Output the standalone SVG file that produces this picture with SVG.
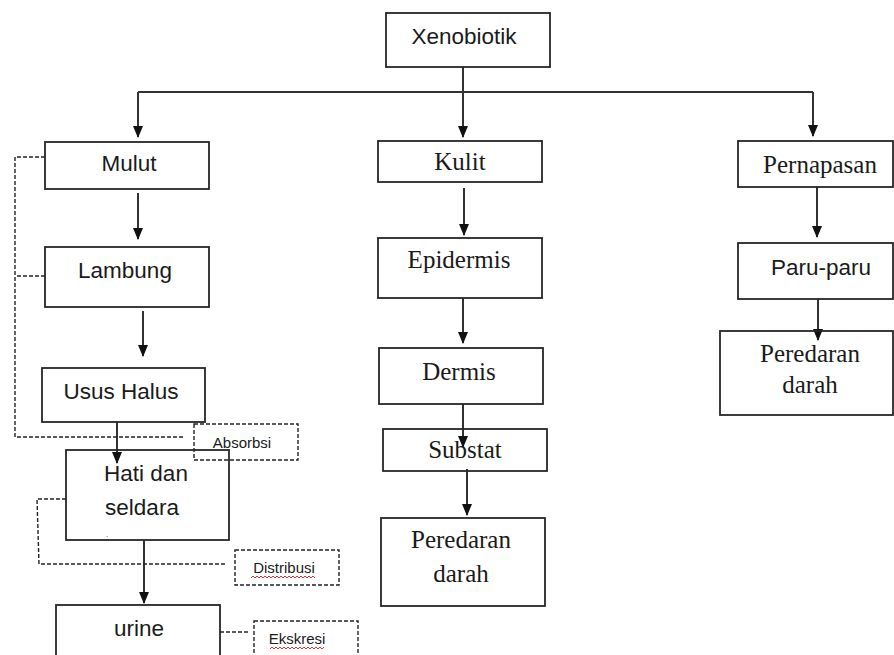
<svg xmlns="http://www.w3.org/2000/svg" width="894" height="655" viewBox="0 0 894 655">
<style>
.box{fill:none;stroke:#262626;stroke-width:1.8}
.dbox{fill:none;stroke:#222;stroke-width:1.4;stroke-dasharray:4 2}
.dl{fill:none;stroke:#222;stroke-width:1.4;stroke-dasharray:4 2}
.ln{fill:none;stroke:#333;stroke-width:2}
.ar{fill:none;stroke:#333;stroke-width:2;marker-end:url(#ah)}
.sans{font-family:"Liberation Sans",Arial,sans-serif;font-size:22.5px;fill:#1a1a1a;text-anchor:middle}
.serif{font-family:"Liberation Serif","Times New Roman",serif;font-size:25px;fill:#1a1a1a;text-anchor:middle}
.small{font-family:"Liberation Sans",Arial,sans-serif;font-size:15px;fill:#1a1a1a;text-anchor:middle}
.wave{fill:none;stroke:#e03030;stroke-width:1}
</style>
<defs>
<marker id="ah" viewBox="0 0 12 10" refX="11" refY="5" markerWidth="12" markerHeight="11" markerUnits="userSpaceOnUse" orient="auto">
<path d="M0,0 L12,5 L0,10 z" fill="#111"/>
</marker>
</defs>
<rect width="894" height="655" fill="#fff"/>

<g id="connectors">
<path class="ln" d="M138,92 H813"/>
<path class="ar" d="M463,67 V137"/>
<path class="ar" d="M138,92 V137"/>
<path class="ar" d="M813,92 V136"/>
<path class="ar" d="M138,193 V239"/>
<path class="ar" d="M143,311 V356"/>
<path class="ar" d="M117,422 V463"/>
<path class="ar" d="M144,540 V603"/>
<path class="ar" d="M464,188 V235"/>
<path class="ar" d="M463,298 V343"/>
<path class="ar" d="M463,404 V447"/>
<path class="ar" d="M467,469 V515"/>
<path class="ar" d="M817,187 V237"/>
<path class="ar" d="M818,299 V340"/>
<path class="dl" d="M45,157 H15 V437 H185"/>
<path class="dl" d="M45,276 H15"/>
<path class="dl" d="M66,499 H37 L39,564 H227"/>
<path class="dl" d="M220,632 H250"/>
</g>

<g id="xenobiotik"><rect class="box" x="386" y="13" width="164" height="54"/><text class="sans" x="464" y="44">Xenobiotik</text></g>
<g id="mulut"><rect class="box" x="45" y="142" width="164" height="47"/><text class="sans" x="129" y="171">Mulut</text></g>
<g id="lambung"><rect class="box" x="45" y="247" width="164" height="60"/><text class="sans" x="125" y="278">Lambung</text></g>
<g id="usus-halus"><rect class="box" x="42" y="368" width="163" height="54"/><text class="sans" x="121" y="399">Usus Halus</text></g>
<g id="hati"><rect class="box" x="66" y="450" width="163" height="90"/><text class="sans" x="146" y="481">Hati dan</text><text class="sans" x="142" y="515">seldara</text><text class="small" x="107" y="537" style="font-size:8px">.</text></g>
<g id="urine"><rect class="box" x="56" y="605" width="164" height="60"/><text class="sans" x="139" y="636">urine</text></g>
<g id="absorbsi"><rect class="dbox" x="194" y="424" width="104" height="36"/><text class="small" x="242" y="448">Absorbsi</text></g>
<g id="distribusi"><rect class="dbox" x="235" y="550" width="104" height="35"/><text class="small" x="284" y="573">Distribusi</text>
<path class="wave" d="M251,578 l2,-2 l2,2 l2,-2 l2,2 l2,-2 l2,2 l2,-2 l2,2 l2,-2 l2,2 l2,-2 l2,2 l2,-2 l2,2 l2,-2 l2,2 l2,-2 l2,2 l2,-2 l2,2 l2,-2 l2,2 l2,-2 l2,2 l2,-2 l2,2 l2,-2 l2,2 l2,-2 l2,2 l2,-2 l2,2"/></g>
<g id="ekskresi"><rect class="dbox" x="254" y="621" width="104" height="44"/><text class="small" x="297" y="644">Ekskresi</text>
<path class="wave" d="M270,649 l2,-2 l2,2 l2,-2 l2,2 l2,-2 l2,2 l2,-2 l2,2 l2,-2 l2,2 l2,-2 l2,2 l2,-2 l2,2 l2,-2 l2,2 l2,-2 l2,2 l2,-2 l2,2 l2,-2 l2,2 l2,-2 l2,2 l2,-2 l2,2 l2,-2"/></g>

<g id="kulit"><rect class="box" x="378" y="141" width="164" height="41"/><text class="serif" x="460" y="170">Kulit</text></g>
<g id="epidermis"><rect class="box" x="378" y="238" width="164" height="60"/><text class="serif" x="459" y="268">Epidermis</text></g>
<g id="dermis"><rect class="box" x="379" y="348" width="164" height="56"/><text class="serif" x="459" y="380">Dermis</text></g>
<g id="substat"><rect class="box" x="383" y="429" width="164" height="42"/><text class="serif" x="465" y="458">Substat</text></g>
<g id="peredaran-kulit"><rect class="box" x="381" y="518" width="164" height="88"/><text class="serif" x="461" y="548">Peredaran</text><text class="serif" x="461" y="582">darah</text></g>

<g id="pernapasan"><rect class="box" x="738" y="141" width="155" height="46"/><text class="serif" x="820" y="173">Pernapasan</text></g>
<g id="paru-paru"><rect class="box" x="738" y="243" width="155" height="56"/><text class="sans" x="821" y="275">Paru-paru</text></g>
<g id="peredaran-paru"><rect class="box" x="720" y="331" width="173" height="84"/><text class="serif" x="810" y="362">Peredaran</text><text class="serif" x="810" y="393">darah</text></g>
</svg>
